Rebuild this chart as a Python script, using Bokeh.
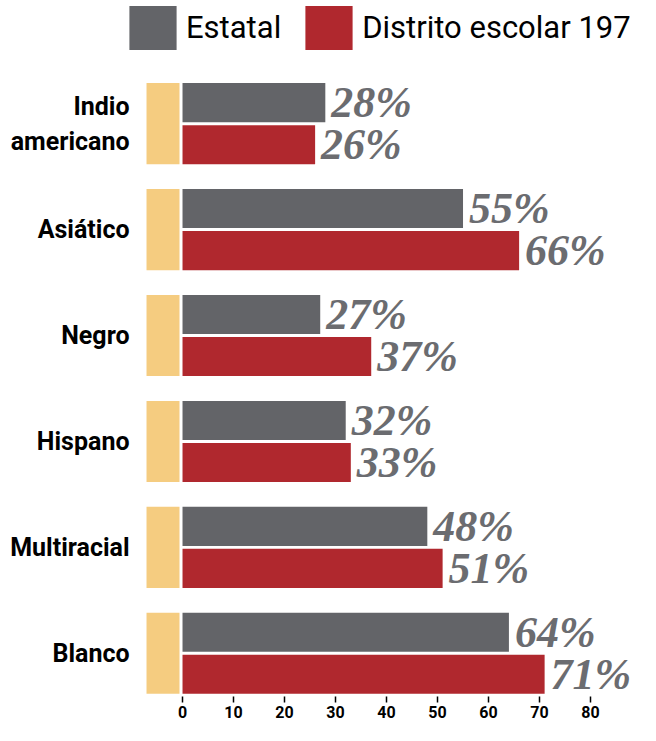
from bokeh.plotting import figure
from bokeh.models import ColumnDataSource, Range1d, FixedTicker, Legend, LegendItem
from bokeh.core.properties import value
from bokeh.transform import dodge
from bokeh.embed import file_html
from bokeh.resources import INLINE

categories = ["Indio\namericano", "Asiático", "Negro", "Hispano", "Multiracial", "Blanco"]
estatal = [28, 55, 27, 32, 48, 64]
distrito = [26, 66, 37, 33, 51, 71]
series_names = ["Estatal", "Distrito escolar 197"]
x_ticks = [0, 10, 20, 30, 40, 50, 60, 70, 80]

GRAY = "#636468"
RED = "#b0282e"
TAN = "#f5cc80"
LABEL_GRAY = "#6b6c70"
SANS = "Roboto"

pos = list(range(len(categories)))
src = ColumnDataSource(dict(
    pos=pos,
    cat=categories,
    estatal=estatal,
    distrito=distrito,
    e_lab=[f"{v}%" for v in estatal],
    d_lab=[f"{v}%" for v in distrito],
))

p = figure(width=640, height=725,
           x_range=Range1d(-35.69, 89.8), y_range=Range1d(5.408, -1.163),
           output_backend="svg", toolbar_location=None, y_axis_location=None,
           min_border_left=0, min_border_right=0, min_border_top=0, min_border_bottom=29)

# tan stripes left of zero
p.hbar(y="pos", left=-7.06, right=-0.59, height=0.766, source=src,
       fill_color=TAN, line_color=None)

off = 0.1985
bh = 0.369
r_e = p.hbar(y=dodge("pos", -off), left=0, right="estatal", height=bh, source=src,
             fill_color=GRAY, line_color=None)
r_d = p.hbar(y=dodge("pos", off), left=0, right="distrito", height=bh, source=src,
             fill_color=RED, line_color=None)

lab_kw = dict(text_font=value("Liberation Serif"), text_font_style="bold italic",
              text_font_size="44px", text_baseline="middle", text_align="left",
              text_color=LABEL_GRAY, x_offset=6)
p.text(x="estatal", y=dodge("pos", -off), text="e_lab", source=src, **lab_kw)
p.text(x="distrito", y=dodge("pos", off), text="d_lab", source=src, **lab_kw)

p.text(x=-10.39, y="pos", text="cat", source=src, text_align="right",
       text_baseline="middle", text_font=value(SANS), text_font_style="bold",
       text_font_size="25px", text_color="black", text_line_height=1.2)

legend = Legend(items=[LegendItem(label=series_names[0], renderers=[r_e]),
                       LegendItem(label=series_names[1], renderers=[r_d])],
                orientation="horizontal", location=(123, 641),
                glyph_width=59, glyph_height=55,
                label_text_font=SANS, label_text_font_size="31px",
                label_text_color="black",
                label_standoff=4, spacing=18, padding=0, margin=0,
                border_line_color=None, background_fill_alpha=0)
p.add_layout(legend)

ax = p.xaxis[0]
ax.ticker = FixedTicker(ticks=x_ticks)
ax.axis_line_color = None
ax.major_tick_in = 0
ax.major_tick_out = 6
ax.major_tick_line_width = 1.5
ax.major_tick_line_color = "black"
ax.minor_tick_line_color = None
ax.major_label_standoff = 3
ax.major_label_text_font = SANS
ax.major_label_text_font_style = "bold"
ax.major_label_text_font_size = "16px"
ax.major_label_text_color = "black"

p.grid.visible = False
p.outline_line_color = None

open("out.html", "w").write(file_html(p, INLINE))
